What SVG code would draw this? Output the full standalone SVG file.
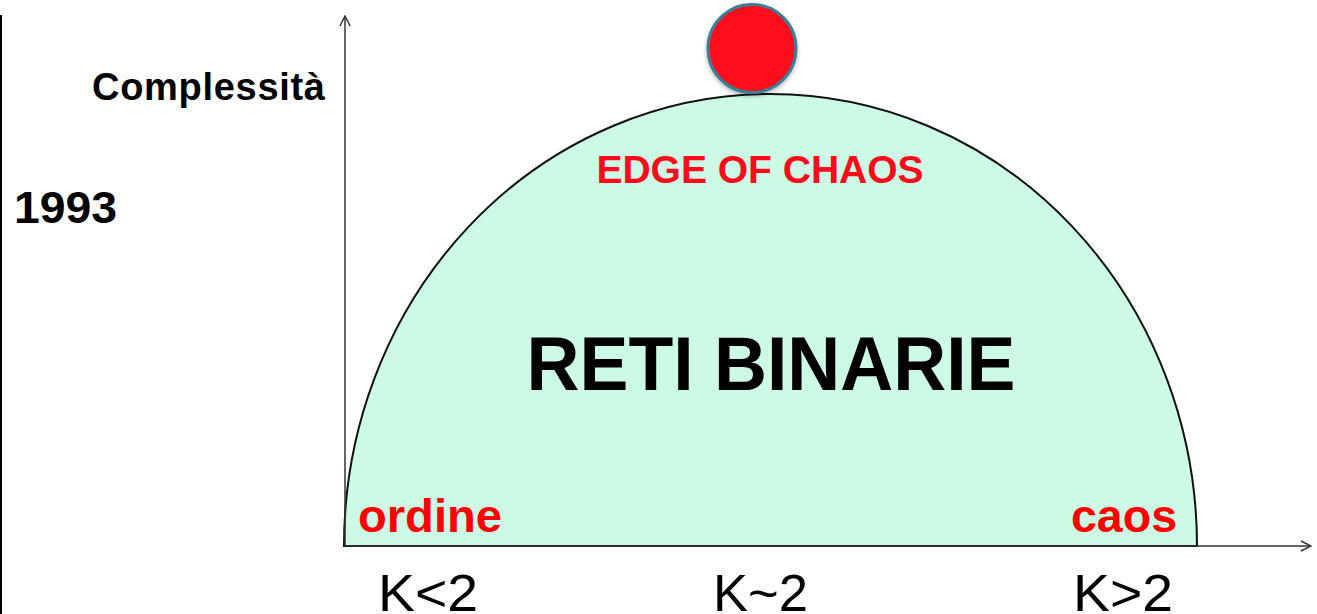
<svg xmlns="http://www.w3.org/2000/svg" width="1317" height="614" viewBox="0 0 1317 614">
<style>
.b{font-family:"Liberation Sans",Arial,sans-serif;font-weight:bold}
.r{font-family:"Liberation Sans",Arial,sans-serif}
.red{fill:#fe0a1a}
.axis{stroke:#333;stroke-width:1.5;fill:none}
</style>
<defs>
<marker id="arr" viewBox="0 0 12 12" refX="11" refY="6" markerWidth="12" markerHeight="12" markerUnits="userSpaceOnUse" orient="auto">
<path d="M1,1 L11,6 L1,11" fill="none" stroke="#333" stroke-width="1.5"/>
</marker>
<filter id="sh" x="-20%" y="-20%" width="140%" height="140%">
<feDropShadow dx="0" dy="2" stdDeviation="2" flood-color="#000" flood-opacity="0.3"/>
</filter>
</defs>
<rect width="1317" height="614" fill="#fff"/>
<line x1="1" y1="15" x2="1" y2="614" stroke="#000" stroke-width="2"/>
<g id="dome">
<path d="M344,546 A426.5,452 0 0 1 1197,546 Z" fill="#ccfae4" stroke="#111" stroke-width="2"/>
</g>
<g id="connectors">
<line class="axis" x1="345" y1="546" x2="345" y2="16" marker-end="url(#arr)"/>
<line class="axis" x1="345" y1="546" x2="1311" y2="546" marker-end="url(#arr)"/>
</g>
<g id="ball">
<circle cx="752" cy="48.5" r="44" fill="#fe0f1f" stroke="#3a7f96" stroke-width="3" filter="url(#sh)"/>
</g>
<g id="labels">
<text class="b" x="92" y="100" font-size="38" textLength="233" lengthAdjust="spacing" fill="#000">Complessità</text>
<text class="b" x="14" y="223" font-size="45" textLength="103" lengthAdjust="spacingAndGlyphs" fill="#000">1993</text>
<text class="b red" x="760" y="183" font-size="39" text-anchor="middle">EDGE OF CHAOS</text>
<text class="b" x="771" y="390" font-size="76" text-anchor="middle" textLength="489" lengthAdjust="spacingAndGlyphs" fill="#000">RETI BINARIE</text>
<text class="b" x="358" y="532" font-size="46" textLength="144" lengthAdjust="spacingAndGlyphs" fill="#ff0000">ordine</text>
<text class="b" x="1071" y="532" font-size="46" textLength="106" lengthAdjust="spacingAndGlyphs" fill="#ff0000">caos</text>
<text class="r" x="378" y="611" font-size="52" textLength="100" lengthAdjust="spacingAndGlyphs" fill="#000">K&lt;2</text>
<text class="r" x="713" y="611" font-size="52" textLength="95" lengthAdjust="spacingAndGlyphs" fill="#000">K~2</text>
<text class="r" x="1073" y="611" font-size="52" textLength="100" lengthAdjust="spacingAndGlyphs" fill="#000">K&gt;2</text>
</g>
</svg>
